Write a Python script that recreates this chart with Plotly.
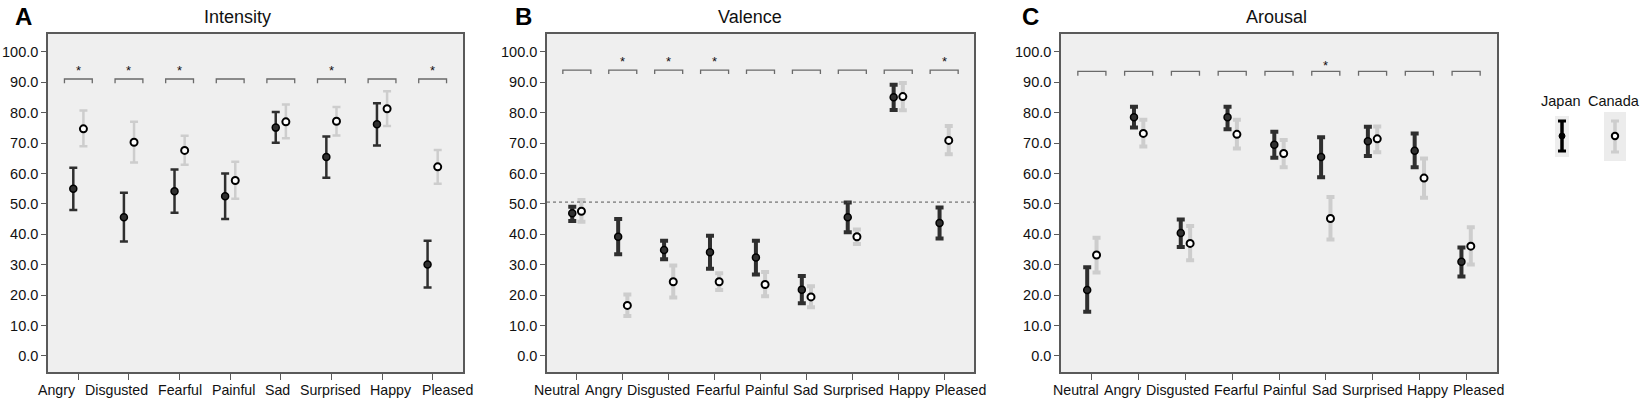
import plotly.graph_objects as go

W, H = 1644, 403

# ---------------- data ----------------
cats_int = ["Angry", "Disgusted", "Fearful", "Painful", "Sad", "Surprised", "Happy", "Pleased"]
int_jp_mean = [55.0, 45.6, 54.2, 52.5, 75.1, 65.4, 76.2, 30.1]
int_jp_hi   = [61.9, 53.7, 61.3, 60.0, 80.2, 72.2, 83.1, 37.9]
int_jp_lo   = [48.0, 37.6, 47.1, 45.0, 70.1, 58.6, 69.2, 22.5]
int_ca_mean = [74.7, 70.3, 67.6, 57.7, 77.0, 77.2, 81.3, 62.2]
int_ca_hi   = [80.7, 77.0, 72.4, 63.9, 82.7, 81.9, 87.1, 67.7]
int_ca_lo   = [69.0, 63.6, 62.9, 51.7, 71.6, 72.5, 75.6, 56.6]
int_sig     = [True, True, True, False, False, True, False, True]

cats_va = ["Neutral", "Angry", "Disgusted", "Fearful", "Painful", "Sad", "Surprised", "Happy", "Pleased"]
val_jp_mean = [46.9, 39.2, 34.8, 34.1, 32.4, 21.8, 45.6, 85.1, 43.7]
val_jp_hi   = [49.1, 45.0, 37.9, 39.5, 37.9, 26.3, 50.5, 89.2, 48.8]
val_jp_lo   = [44.4, 33.4, 31.8, 28.7, 26.8, 17.3, 40.7, 80.9, 38.6]
val_ca_mean = [47.6, 16.6, 24.4, 24.4, 23.5, 19.4, 39.2, 85.3, 70.9]
val_ca_hi   = [51.3, 20.2, 29.7, 27.2, 27.6, 22.9, 41.6, 89.8, 75.6]
val_ca_lo   = [44.1, 13.1, 19.2, 21.7, 19.6, 16.0, 36.8, 80.8, 66.3]
val_sig     = [False, True, True, True, False, False, False, False, True]
val_ref     = 50.6

aro_jp_mean = [21.7, 78.5, 40.4, 78.5, 69.5, 65.4, 70.6, 67.5, 31.0]
aro_jp_hi   = [29.2, 82.0, 44.9, 82.0, 73.7, 71.9, 75.4, 73.2, 35.7]
aro_jp_lo   = [14.5, 75.1, 35.8, 74.6, 65.2, 58.8, 65.8, 62.1, 26.1]
aro_ca_mean = [33.2, 73.2, 37.0, 72.9, 66.6, 45.2, 71.4, 58.5, 36.1]
aro_ca_hi   = [38.9, 77.7, 42.7, 77.7, 71.0, 52.3, 75.5, 64.9, 42.3]
aro_ca_lo   = [27.4, 68.9, 31.5, 68.2, 62.1, 38.3, 67.0, 52.0, 30.1]
aro_sig     = [False, False, False, False, False, True, False, False, False]

titles = ["Intensity", "Valence", "Arousal"]
letters = ["A", "B", "C"]
groups = ["Japan", "Canada"]
y_ticks = [0, 10, 20, 30, 40, 50, 60, 70, 80, 90, 100]

# ---------------- style ----------------
FONT = "Liberation Sans, Arial, sans-serif"
JP_COL = "#2f2f2f"
CA_COL = "#cdcdcd"
BG = "#efefef"
FRAME = "#5a5a5a"
CAT_SIZE = 14.2

# Arial / Liberation Sans advance widths (per em) for label layout
CHAR_W = {"A": .667, "D": .722, "F": .611, "H": .722, "N": .722, "P": .667, "S": .667,
          "a": .556, "d": .556, "e": .556, "f": .278, "g": .556, "i": .222, "l": .222,
          "n": .556, "p": .556, "r": .333, "s": .5, "t": .278, "u": .556, "y": .5}

def text_w(s, size):
    return sum(CHAR_W.get(c, .556) for c in s) * size

def px_x(p):
    return p / W

def px_y(p):
    return 1 - p / H

panels = [
    dict(cats=cats_int, jm=int_jp_mean, jh=int_jp_hi, jl=int_jp_lo,
         cm=int_ca_mean, ch=int_ca_hi, cl=int_ca_lo, sig=int_sig,
         dom=(48, 463), thick=2.5, pad=0.6, br=(91.1, 89.7, 94.0), bw=0.55, gap=9.8),
    dict(cats=cats_va, jm=val_jp_mean, jh=val_jp_hi, jl=val_jp_lo,
         cm=val_ca_mean, ch=val_ca_hi, cl=val_ca_lo, sig=val_sig,
         dom=(547, 974), thick=4, pad=0.65, br=(94.0, 92.7, 96.9), bw=0.61, gap=5.0),
    dict(cats=cats_va, jm=aro_jp_mean, jh=aro_jp_hi, jl=aro_jp_lo,
         cm=aro_ca_mean, ch=aro_ca_hi, cl=aro_ca_lo, sig=aro_sig,
         dom=(1061, 1497), thick=4, pad=0.66, br=(93.6, 92.2, 95.6), bw=0.6, gap=4.9),
]

fig = go.Figure()
shapes = []
annotations = []
layout = dict(
    width=W, height=H,
    margin=dict(l=0, r=0, t=0, b=0),
    paper_bgcolor="white",
    plot_bgcolor=BG,
    showlegend=False,
    font=dict(family=FONT, color="#111111"),
)

OFF = 0.1
title_x = [238, 750, 1276]
letter_x = [23, 523, 1030]

for i, p in enumerate(panels):
    n = i + 1
    xa = "x" if n == 1 else f"x{n}"
    ya = "y" if n == 1 else f"y{n}"
    xkey = "xaxis" if n == 1 else f"xaxis{n}"
    ykey = "yaxis" if n == 1 else f"yaxis{n}"
    idx = list(range(len(p["cats"])))
    x_range = [-p["pad"], len(idx) - 1 + p["pad"]]

    jx = [k - OFF for k in idx]
    cx = [k + OFF for k in idx]

    fig.add_trace(go.Scatter(
        x=jx, y=p["jm"], mode="markers", name=groups[0], xaxis=xa, yaxis=ya,
        marker=dict(size=7, color="#303030", line=dict(color="#000000", width=1.5)),
        error_y=dict(type="data", symmetric=False,
                     array=[h - m for h, m in zip(p["jh"], p["jm"])],
                     arrayminus=[m - l for m, l in zip(p["jm"], p["jl"])],
                     color=JP_COL, thickness=p["thick"], width=4),
    ))
    fig.add_trace(go.Scatter(
        x=cx, y=p["cm"], mode="markers", name=groups[1], xaxis=xa, yaxis=ya,
        marker=dict(size=7, color="#ffffff", line=dict(color="#000000", width=2)),
        error_y=dict(type="data", symmetric=False,
                     array=[h - m for h, m in zip(p["ch"], p["cm"])],
                     arrayminus=[m - l for m, l in zip(p["cm"], p["cl"])],
                     color=CA_COL, thickness=p["thick"], width=4),
    ))

    layout[xkey] = dict(
        domain=[px_x(p["dom"][0]), px_x(p["dom"][1])],
        range=x_range,
        tickvals=idx, ticktext=p["cats"], showticklabels=False,
        ticks="outside", ticklen=6, tickwidth=1.2, tickcolor=FRAME,
        showgrid=False, zeroline=False,
        showline=True, linecolor=FRAME, linewidth=1.5, mirror=True,
        anchor=ya, fixedrange=True,
    )
    layout[ykey] = dict(
        domain=[px_y(372), px_y(34)],
        range=[-5.3, 105.9],
        tickvals=y_ticks, tickformat=".1f",
        ticks="outside", ticklen=5, tickwidth=1.2, tickcolor=FRAME,
        showgrid=False, zeroline=False,
        showline=True, linecolor=FRAME, linewidth=1.5, mirror=True,
        tickfont=dict(size=14.5, family=FONT, color="#111111"),
        anchor=xa, fixedrange=True,
    )

    # category labels: spread with equal gaps (as the original software does),
    # centred under the span of the tick marks
    d0, d1 = p["dom"]
    tick_px = [d0 + (k - x_range[0]) / (x_range[1] - x_range[0]) * (d1 - d0) for k in idx]
    widths = [text_w(c, CAT_SIZE) for c in p["cats"]]
    total = sum(widths) + p["gap"] * (len(idx) - 1)
    cursor = (tick_px[0] + tick_px[-1]) / 2 - total / 2
    for c, wdt in zip(p["cats"], widths):
        annotations.append(dict(
            x=px_x(cursor + wdt / 2), y=px_y(390), xref="paper", yref="paper",
            text=c, showarrow=False, xanchor="center", yanchor="middle",
            font=dict(size=CAT_SIZE, family=FONT, color="#111111"),
        ))
        cursor += wdt + p["gap"]

    # significance brackets
    yh, ye, ys = p["br"]
    half = p["bw"] / 2
    for k, s in zip(idx, p["sig"]):
        shapes.append(dict(
            type="path", xref=xa, yref=ya,
            path=f"M {k-half},{ye} L {k-half},{yh} L {k+half},{yh} L {k+half},{ye}",
            line=dict(color="#6a6a6a", width=1.3),
        ))
        if s:
            annotations.append(dict(
                x=k, y=ys, xref=xa, yref=ya, text="*", showarrow=False,
                font=dict(size=13, family=FONT, color="#111111"),
                yanchor="middle",
            ))

    # titles and panel letters
    annotations.append(dict(
        x=px_x(title_x[i]), y=px_y(17), xref="paper", yref="paper",
        text=titles[i], showarrow=False, xanchor="center", yanchor="middle",
        font=dict(size=18, family=FONT, color="#111111"),
    ))
    annotations.append(dict(
        x=px_x(letter_x[i]), y=px_y(16), xref="paper", yref="paper",
        text=f"<b>{letters[i]}</b>", showarrow=False, xanchor="center", yanchor="middle",
        font=dict(size=24, family=FONT, color="#000000"),
    ))

# reference line in valence panel
shapes.append(dict(
    type="line", xref="x2 domain", yref="y2", x0=0, x1=1, y0=val_ref, y1=val_ref,
    line=dict(color="#555555", width=1, dash="dot"),
))

# ---------------- legend (drawn manually) ----------------
def rect(x0, y0, x1, y1, color):
    return dict(type="rect", xref="paper", yref="paper",
                x0=px_x(x0), x1=px_x(x1), y0=px_y(y1), y1=px_y(y0),
                fillcolor=color, line=dict(width=0), layer="below")

def vline(x, y0, y1, color, w):
    return dict(type="line", xref="paper", yref="paper",
                x0=px_x(x), x1=px_x(x), y0=px_y(y0), y1=px_y(y1),
                line=dict(color=color, width=w))

def hline(x0, x1, y, color, w):
    return dict(type="line", xref="paper", yref="paper",
                x0=px_x(x0), x1=px_x(x1), y0=px_y(y), y1=px_y(y),
                line=dict(color=color, width=w))

def circ(xc, yc, r, fill, lw):
    return dict(type="circle", xref="paper", yref="paper",
                x0=px_x(xc - r), x1=px_x(xc + r), y0=px_y(yc + r), y1=px_y(yc - r),
                fillcolor=fill, line=dict(color="#000000", width=lw))

# Japan key
shapes += [
    rect(1555, 116, 1569, 157, "#eeeeee"),
    vline(1562, 120, 152, "#000000", 3.5),
    hline(1558, 1566, 121, "#000000", 3),
    hline(1558, 1566, 151, "#000000", 3),
    circ(1562, 136, 3, "#000000", 1),
]
# Canada key
shapes += [
    rect(1604, 112, 1626, 161, "#ececec"),
    vline(1615, 120, 153, CA_COL, 3.5),
    hline(1611, 1619, 121, CA_COL, 3),
    hline(1611, 1619, 152, CA_COL, 3),
    circ(1615, 136, 3.2, "#ffffff", 2),
]
annotations.append(dict(x=px_x(1561), y=px_y(101), xref="paper", yref="paper",
                        text=groups[0], showarrow=False, xanchor="center", yanchor="middle",
                        font=dict(size=14.5, family=FONT, color="#111111")))
annotations.append(dict(x=px_x(1614), y=px_y(101), xref="paper", yref="paper",
                        text=groups[1], showarrow=False, xanchor="center", yanchor="middle",
                        font=dict(size=14.5, family=FONT, color="#111111")))

layout["shapes"] = shapes
layout["annotations"] = annotations
fig.update_layout(**layout)

fig.write_html("out.html", config={"displayModeBar": False})

# remove the default page margin so the figure fills the window exactly
with open("out.html", "r", encoding="utf-8") as f:
    html = f.read()
html = html.replace("<head>", "<head><style>html,body{margin:0;padding:0;overflow:hidden;}</style>", 1)
with open("out.html", "w", encoding="utf-8") as f:
    f.write(html)
